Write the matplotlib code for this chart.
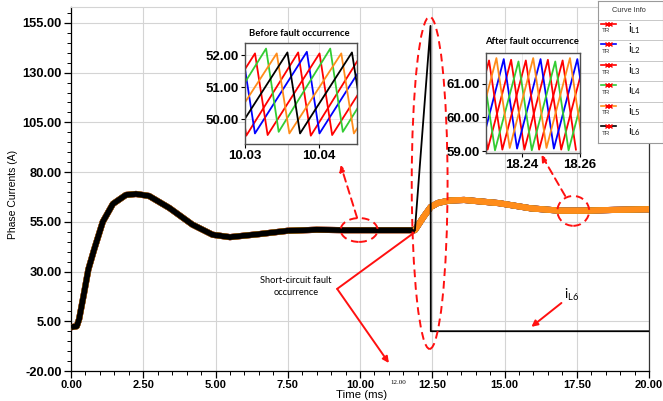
import numpy as np
import matplotlib
matplotlib.use("Agg")
import matplotlib.pyplot as plt
from matplotlib.patches import Ellipse
from matplotlib.ticker import MultipleLocator, FormatStrFormatter

plt.rcParams['font.family'] = ['Liberation Sans', 'DejaVu Sans']

W, H = 663, 401

# ---- main waveform (time in ms, current in A) ----
t_before = [0.0, 0.2, 0.28, 0.45, 0.6, 0.8, 1.1, 1.45, 1.9, 2.25, 2.7, 3.4,
            4.2, 4.9, 5.5, 6.5, 7.5, 8.5, 9.5, 10.5, 11.5, 11.9]
i_before = [2.0, 2.5, 6.0, 19.0, 31.0, 41.0, 55.0, 64.0, 68.5, 69.0, 68.0, 62.0,
            53.6, 48.5, 47.3, 48.8, 50.5, 51.0, 50.8, 50.8, 50.8, 50.8]
t_after = [11.9, 12.2, 12.45, 12.7, 13.1, 13.6, 14.8, 15.9, 16.9, 17.8, 18.8, 19.9, 20.0]
i_after = [50.8, 57.5, 62.5, 64.5, 65.7, 66.0, 64.4, 61.8, 60.6, 60.6, 61.0, 61.3, 61.3]
t_l6_fault = [11.9, 12.44, 12.45, 20.0]
i_l6_fault = [50.8, 153.5, 0.0, 0.0]

labels = ['L1', 'L2', 'L3', 'L4', 'L5', 'L6']
colors = ['#ff0000', '#0000ff', '#ff0000', '#33cc33', '#ff8c1a', '#000000']

# ---- zoom before fault (ripple vertices) ----
zb_t = [
    [10.02847, 10.03017, 10.03717, 10.03887, 10.04587],
    [10.02964, 10.03134, 10.03834, 10.04004, 10.04704],
    [10.02435, 10.03135, 10.03305, 10.04005, 10.04175, 10.04875],
    [10.02584, 10.03284, 10.03454, 10.04149, 10.04319, 10.05019],
    [10.02728, 10.03428, 10.03598, 10.04298, 10.04468, 10.05168],
    [10.02872, 10.03572, 10.03742, 10.04442, 10.04612],
]
zb_i = [
    [52.08, 49.48, 52.08, 49.48, 52.08],
    [52.10, 49.55, 52.10, 49.55, 52.10],
    [49.50, 52.05, 49.50, 52.05, 49.50, 52.05],
    [49.60, 52.20, 49.60, 52.20, 49.60, 52.20],
    [49.55, 52.05, 49.55, 52.05, 49.55, 52.05],
    [49.55, 52.08, 49.55, 52.08, 49.55],
]

# ---- zoom after fault (ripple vertices, iL6 is zero) ----
za_t = [
    [18.22346, 18.22806, 18.23618, 18.24078, 18.24890, 18.25350, 18.26162],
    [18.22554, 18.23364, 18.23824, 18.24636, 18.25096, 18.25908, 18.26368],
    [18.22045, 18.22855, 18.23315, 18.24127, 18.24587, 18.25399, 18.25859],
    [18.22601, 18.23061, 18.23873, 18.24333, 18.25145, 18.25605, 18.26417],
    [18.22300, 18.23110, 18.23570, 18.24382, 18.24842, 18.25653, 18.26113],
]
za_i = [
    [61.70, 59.05, 61.70, 59.05, 61.70, 59.05, 61.70],
    [59.05, 61.72, 59.08, 61.72, 59.08, 61.72, 59.08],
    [59.05, 61.68, 59.05, 61.68, 59.05, 61.68, 59.05],
    [61.65, 59.03, 61.65, 59.03, 61.65, 59.03, 61.65],
    [59.10, 61.75, 59.10, 61.75, 59.10, 61.75, 59.10],
]


def px_box(left, top, right, bottom):
    return [left / W, 1 - bottom / H, (right - left) / W, (bottom - top) / H]


fig = plt.figure(figsize=(W / 100, H / 100), dpi=100)
ax = fig.add_axes(px_box(71, 7, 649, 371))

for k in range(5):
    ax.plot(t_before + t_after[1:], i_before + i_after[1:], color=colors[k],
            lw=4.4, solid_capstyle='butt', zorder=3)
ax.plot(t_before, i_before, color='black', lw=4.1, solid_capstyle='butt', zorder=4)
ax.plot(t_after, i_after, color=colors[4], lw=4.2, solid_capstyle='butt', zorder=4)
ax.plot(t_l6_fault, i_l6_fault, color='black', lw=1.3, zorder=4)

ax.set_xlim(0, 20)
ax.set_ylim(-20, 163)
ax.xaxis.set_major_locator(MultipleLocator(2.5))
ax.xaxis.set_minor_locator(MultipleLocator(0.5))
ax.set_yticks(np.arange(-20, 156, 25))
ax.yaxis.set_minor_locator(MultipleLocator(5))
ax.xaxis.set_major_formatter(FormatStrFormatter('%.2f'))
ax.yaxis.set_major_formatter(FormatStrFormatter('%.2f'))
ax.tick_params(which='major', direction='out', length=5, width=0.9, pad=1.5)
ax.tick_params(which='minor', direction='out', length=3, width=0.7)
ax.tick_params(axis='x', labelsize=8)
ax.tick_params(axis='y', labelsize=9.3)
for lab in ax.get_xticklabels() + ax.get_yticklabels():
    lab.set_fontweight('bold')
ax.grid(True, which='major', color='#d4d4d4', lw=0.8, zorder=0)
ax.set_axisbelow(True)
ax.spines['right'].set_color('#333333')
ax.spines['right'].set_linewidth(0.9)
ax.spines['top'].set_color('#d4d4d4')
ax.spines['left'].set_linewidth(0.9)
ax.spines['bottom'].set_linewidth(0.9)

fig.text(13 / W, 1 - 194 / H, 'Phase Currents (A)', rotation=90, ha='center',
         va='center', fontsize=7.5)
fig.text(362 / W, 1 - 394.5 / H, 'Time (ms)', ha='center', va='center', fontsize=8.2)
fig.text(398 / W, 1 - 383 / H, '12.00', ha='center', va='center', fontsize=5,
         family=['Liberation Serif', 'DejaVu Serif'])

# ---- red markings ----
red = '#ff1010'
dash = (0, (4, 2.5))
for (cx, cy, ew, eh) in [(9.97, 50.9, 1.28, 12.0), (12.41, 74.6, 1.24, 167.0),
                         (17.38, 60.5, 1.1, 15.0)]:
    ax.add_patch(Ellipse((cx, cy), ew, eh, fill=False, ec=red, lw=1.4,
                         ls=dash, zorder=6))

arrow_kw = dict(color=red, lw=1.4, shrinkA=0, shrinkB=0, mutation_scale=9)
ax.annotate('', xy=(9.33, 83.6), xytext=(9.9, 57.0),
            arrowprops=dict(arrowstyle='-|>', ls=dash, **arrow_kw), zorder=6)
ax.annotate('', xy=(16.28, 88.6), xytext=(17.1, 68.0),
            arrowprops=dict(arrowstyle='-|>', ls=dash, **arrow_kw), zorder=6)
ax.annotate('', xy=(11.86, 49.4), xytext=(9.21, 21.3),
            arrowprops=dict(arrowstyle='-', **arrow_kw), zorder=6)
ax.annotate('', xy=(11.0, -16.0), xytext=(9.21, 21.3),
            arrowprops=dict(arrowstyle='-|>', **arrow_kw), zorder=6)
ax.annotate('', xy=(15.93, 2.2), xytext=(16.97, 14.2),
            arrowprops=dict(arrowstyle='-|>', **arrow_kw), zorder=6)

ax.text(7.79, 22.5, 'Short-circuit fault\noccurrence', ha='center', va='center',
        fontsize=6.7, family=['Lato', 'DejaVu Sans'], linespacing=1.3, zorder=6)
ax.text(17.05, 18.3, r'$\mathregular{i_{L6}}$', ha='left', va='center',
        fontsize=9.5, family=['Lato', 'DejaVu Sans'], zorder=6)


def style_inset(a, xt, yt, xlim, ylim):
    a.set_xlim(*xlim)
    a.set_ylim(*ylim)
    a.set_xticks(xt)
    a.set_yticks(yt)
    a.xaxis.set_major_formatter(FormatStrFormatter('%.2f'))
    a.yaxis.set_major_formatter(FormatStrFormatter('%.2f'))
    a.tick_params(direction='out', length=3, width=0.8, labelsize=9.5, pad=1.5)
    for lab in a.get_xticklabels() + a.get_yticklabels():
        lab.set_fontweight('bold')
    for s in a.spines.values():
        s.set_color('#505050')
        s.set_linewidth(1.0)
    a.grid(True, color='#e6e6e6', lw=0.6)
    a.set_axisbelow(True)


# ---- inset before fault ----
ax1 = fig.add_axes(px_box(245, 43, 357, 144))
for k in range(6):
    ax1.plot(zb_t[k], zb_i[k], color=colors[k], lw=1.3)
style_inset(ax1, [10.03, 10.04], [50, 51, 52], (10.03, 10.0451), (49.22, 52.375))
fig.text(299 / W, 1 - 34 / H, 'Before fault occurrence', ha='center', va='center',
         fontsize=6.8, fontweight='bold', family=['Lato', 'DejaVu Sans'])

# ---- inset after fault ----
ax2 = fig.add_axes(px_box(486, 53, 580, 153))
for k in range(5):
    ax2.plot(za_t[k], za_i[k], color=colors[k], lw=1.3)
style_inset(ax2, [18.24, 18.26], [59, 60, 61], (18.2275, 18.26), (58.95, 61.9))
fig.text(532 / W, 1 - 42 / H, 'After fault occurrence', ha='center', va='center',
         fontsize=6.8, fontweight='bold', family=['Lato', 'DejaVu Sans'])

# ---- "Curve Info" box ----
lg = fig.add_axes(px_box(598, 1, 663, 143))
lg.set_xlim(0, 65)
lg.set_ylim(142, 0)
lg.set_xticks([])
lg.set_yticks([])
lg.set_zorder(5)
for s in lg.spines.values():
    s.set_color('#9a9a9a')
    s.set_linewidth(0.8)
lg.text(31, 10, 'Curve Info', ha='center', va='center', fontsize=5.3, color='#333333')
row_h = 20.5
for k in range(6):
    top = 18.5 + row_h * k
    lg.axhline(top, color='#c8c8c8', lw=0.7)
    lg.plot([3, 18], [top + 4, top + 4], color=colors[k], lw=1.2)
    lg.plot([8.5, 11.5], [top + 4, top + 4], ls='none', marker='x', ms=3.2,
            mew=1.0, color='#ff0000')
    lg.text(3.5, top + 11.5, 'TR', ha='left', va='center', fontsize=4.5, color='#333333')
    lg.text(30, top + 9, r'$\mathregular{i_{%s}}$' % labels[k], ha='left',
            va='center', fontsize=8, family=['Lato', 'DejaVu Sans'])

fig.savefig('out.png', dpi=100)
